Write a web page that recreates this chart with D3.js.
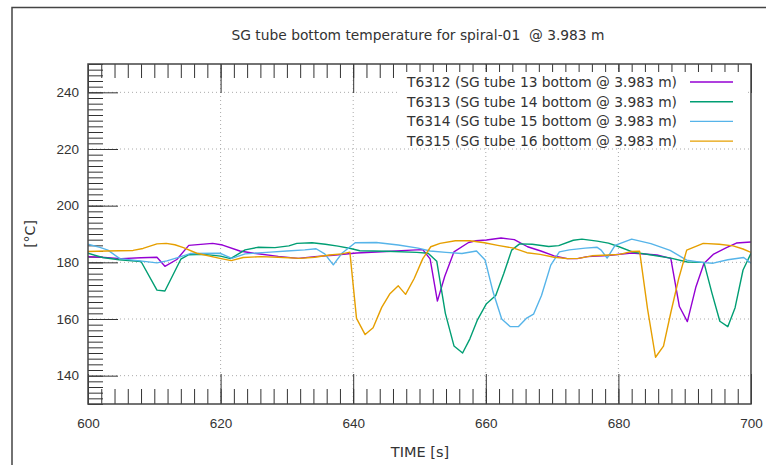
<!DOCTYPE html>
<html>
<head>
<meta charset="utf-8">
<script src="https://cdn.jsdelivr.net/npm/d3@7"></script>
<style>
  body { margin: 0; background: #fff; }
  svg { display: block; font-family: "DejaVu Sans", sans-serif; }
</style>
</head>
<body>
<svg id="chart" width="766" height="465"></svg>
<script>
// chart title + labels
const title = 'SG tube bottom temperature for spiral-01  @ 3.983 m';
const xLabel = 'TIME [s]';
const yLabel = '[°C]';

const xTicks = [600, 620, 640, 660, 680, 700];
const yTicks = [140, 160, 180, 200, 220, 240];

const seriesNames = [
  'T6312 (SG tube 13 bottom @ 3.983 m)',
  'T6313 (SG tube 14 bottom @ 3.983 m)',
  'T6314 (SG tube 15 bottom @ 3.983 m)',
  'T6315 (SG tube 16 bottom @ 3.983 m)'
];
const seriesColors = ['#9400d3', '#009e73', '#56b4e9', '#e69f00'];

// [time, temp]
const t6312 = [[600,182.0],[602,181.8],[605,181.3],[608,181.6],[610.4,181.8],[611.6,178.6],[613.4,181.0],[615.2,186.0],
  [618.8,186.7],[620.3,186.1],[622.9,184.0],[625,183.2],[628.7,182.1],[631.7,181.4],[634.2,182.0],[637,182.5],
  [640.5,183.3],[645,183.8],[648.8,184.3],[650.5,184.5],[651.6,181.2],[652.7,166.3],[653.8,175],[655.2,183.7],
  [657.4,187.0],[658.5,187.6],[660.1,187.9],[662.3,188.6],[664.3,188.0],[666.3,185.5],[668.3,184.0],[670.3,182.3],
  [672.3,181.3],[673.8,181.3],[675.3,182.0],[678.5,182.4],[682,183.3],[685.8,182.6],[687.9,181.4],[689.2,164.4],
  [690.4,159.1],[691.7,171.4],[692.9,179.6],[694.3,182.8],[696.3,185.2],[697.8,186.8],[700,187.2]];

const t6313 = [[600,183.2],[602.2,181.7],[604.7,180.9],[608,180.3],[610.4,170.2],[611.6,169.9],[614,181.1],[615.2,182.7],
  [617.5,182.8],[620,182.2],[621.5,181.3],[623.7,184.4],[625.6,185.3],[628.2,185.2],[630.3,185.8],[631.5,186.7],
  [633.8,186.9],[635.8,186.4],[637.7,185.7],[639.6,184.9],[641,184.1],[645,183.9],[649.6,183.5],[651.3,183.2],
  [652.6,180.4],[653.9,162],[655.2,150.5],[656.5,148.0],[657.6,153],[658.7,159.5],[660.1,165.4],[661.5,168.3],
  [662.7,176],[663.9,184.3],[665.1,186.5],[667,186.4],[669.5,185.6],[671,185.9],[673.2,187.8],[674.5,188.2],
  [676.8,187.5],[678.5,186.8],[680.1,185.5],[682.2,183.6],[685,182.6],[687.9,181.5],[690.4,180.1],[692.9,180],
  [694.1,169.2],[695.3,159.2],[696.5,157.3],[697.6,164.0],[698.8,177.3],[700,183.2]];

const t6314 = [[600,186.4],[601.8,185.3],[603,184.3],[604.8,181.3],[607.8,180.5],[610.4,179.8],[611.9,180.5],[613.9,181.9],
  [615.4,183.1],[619.9,183.2],[621.7,181.4],[623.7,183.0],[627.5,183.6],[630,184.0],[632.7,184.4],[634.4,184.8],
  [635.7,183.0],[637,179.1],[638.3,183.2],[640.3,186.9],[643.5,187.0],[646.8,186.1],[649.8,185.0],[651.6,184.0],
  [654,183.5],[656.4,183.1],[658.6,184.0],[659.9,180.8],[661.1,169.5],[662.4,160.0],[663.7,157.3],[664.9,157.3],
  [666.1,160.2],[667.2,161.7],[668.4,168.3],[669.8,179],[671.1,183.7],[672.6,184.4],[675,185],[676.8,185.3],
  [677.4,184.3],[678.3,181.5],[679.5,186.0],[682,188.2],[684.9,186.6],[687.8,184.2],[690.3,180.8],[692.8,179.9],
  [694.3,179.7],[696.5,180.9],[698.9,181.7],[700,179.7]];

const t6315 = [[600,183.8],[602.8,184.0],[604.7,184.1],[606.8,184.2],[608.3,184.9],[610.4,186.5],[611.8,186.7],[613.1,186.2],
  [614.4,185.2],[616.4,183.2],[619.9,181.4],[621.6,180.6],[623.4,181.7],[626.1,182.0],[628.7,181.8],[632,181.4],
  [634.2,181.8],[636.4,182.6],[638.3,183.0],[639.5,183.6],[640.5,160.2],[641.8,154.5],[643,156.9],[644.3,164.1],
  [645.5,168.8],[646.8,171.7],[647.9,168.7],[649.2,174.3],[650.5,181.3],[651.7,185.5],[653.1,186.7],[655.4,187.6],
  [657.6,187.6],[659.8,186.9],[661.8,186.0],[664.2,185.0],[666.2,183.4],[668.2,182.8],[670.3,181.8],[672.3,181.3],
  [674,181.4],[676,182.3],[678.5,182.6],[680.2,182.8],[681.9,183.8],[683.2,183.9],[684.4,163.5],[685.6,146.5],
  [686.8,150.4],[687.9,162.2],[689.1,174.3],[690.3,184.3],[692.8,186.7],[695.2,186.4],[697.3,185.8],[698.8,184.7],
  [700,183.5]];

const allSeries = [t6312, t6313, t6314, t6315];

const svg = d3.select('#chart');
const plotL = 88, plotR = 751, plotT = 64, plotB = 404;
const textColor = '#333';

const x = d3.scaleLinear().domain([600, 700]).range([plotL, plotR]);
const y = d3.scaleLinear().domain([130, 250]).range([plotB, plotT]);

// outer frame (only top/left edges show)
svg.append('path')
  .attr('d', `M12,465 V7.5 H766`)
  .attr('fill', 'none').attr('stroke', '#444').attr('stroke-width', 1.5);

// grid
const grid = svg.append('g').attr('stroke', '#aaa').attr('stroke-width', 1).attr('stroke-dasharray', '1,3');
grid.selectAll('.gx').data(xTicks.slice(1, -1)).join('line')
  .attr('x1', d => x(d)).attr('x2', d => x(d)).attr('y1', plotT).attr('y2', plotB);
grid.selectAll('.gy').data(yTicks).join('line')
  .attr('x1', plotL).attr('x2', plotR).attr('y1', d => y(d)).attr('y2', d => y(d));

// minor + major ticks, all pointing inward
const minorX = d3.range(600, 701, 2);
const minorY = d3.range(130, 251, 2);
function tickAxis(axis, values, size, tr) {
  const g = svg.append('g').attr('transform', tr)
    .call(axis.tickValues(values).tickSize(-size).tickFormat(''));
  g.select('.domain').remove();
  g.selectAll('line').attr('stroke', '#333').attr('stroke-width', 1);
  return g;
}
tickAxis(d3.axisLeft(y), minorY, 15, `translate(${plotL},0)`);
tickAxis(d3.axisBottom(x), minorX, 15, `translate(0,${plotB})`);
tickAxis(d3.axisTop(x), minorX, 14, `translate(0,${plotT})`);
tickAxis(d3.axisTop(x), xTicks, 29, `translate(0,${plotT})`);

const yAxis = svg.append('g').attr('transform', `translate(${plotL},0)`)
  .call(d3.axisLeft(y).tickValues(yTicks).tickSize(-30).tickPadding(9));
yAxis.select('.domain').remove();
yAxis.selectAll('line').attr('stroke', '#333');
yAxis.selectAll('text').attr('fill', textColor).style('font-size', '13.5px');

const xAxis = svg.append('g').attr('transform', `translate(0,${plotB})`)
  .call(d3.axisBottom(x).tickValues(xTicks).tickSize(-30).tickPadding(14));
xAxis.select('.domain').remove();
xAxis.selectAll('line').attr('stroke', '#333');
xAxis.selectAll('text').attr('fill', textColor).style('font-size', '13.5px');

// data lines
svg.append('clipPath').attr('id', 'clip')
  .append('rect').attr('x', plotL).attr('y', plotT).attr('width', plotR - plotL).attr('height', plotB - plotT);

const line = d3.line().x(d => x(d[0])).y(d => y(d[1]));
svg.append('g').attr('clip-path', 'url(#clip)')
  .selectAll('path').data(allSeries).join('path')
  .attr('d', line)
  .attr('fill', 'none')
  .attr('stroke', (d, i) => seriesColors[i])
  .attr('stroke-width', 1.4)
  .attr('stroke-linejoin', 'round');

// legend (opaque box)
const legend = svg.append('g');
legend.append('rect').attr('x', 398).attr('y', 72).attr('width', 347).attr('height', 75).attr('fill', '#fff');
seriesNames.forEach((name, i) => {
  const yy = 82 + i * 19.7;
  legend.append('text').attr('x', 677).attr('y', yy).attr('dy', '0.35em')
    .attr('text-anchor', 'end').attr('fill', textColor).style('font-size', '13.8px').text(name);
  legend.append('line').attr('x1', 690).attr('x2', 733).attr('y1', yy).attr('y2', yy)
    .attr('stroke', seriesColors[i]).attr('stroke-width', 1.4);
});

// plot border
svg.append('rect').attr('x', plotL).attr('y', plotT).attr('width', plotR - plotL).attr('height', plotB - plotT)
  .attr('fill', 'none').attr('stroke', '#444').attr('stroke-width', 1.5);

// titles
svg.append('text').attr('x', 418).attr('y', 35).attr('dy', '0.35em').attr('text-anchor', 'middle')
  .style('white-space', 'pre')
  .attr('fill', textColor).style('font-size', '13.8px').text(title);
svg.append('text').attr('x', 420).attr('y', 452).attr('dy', '0.35em').attr('text-anchor', 'middle')
  .attr('fill', textColor).style('font-size', '14.5px').text(xLabel);
svg.append('text').attr('transform', 'translate(30,234) rotate(-90)').attr('dy', '0.35em')
  .attr('text-anchor', 'middle').attr('fill', textColor).style('font-size', '14px').text(yLabel);
</script>
</body>
</html>
